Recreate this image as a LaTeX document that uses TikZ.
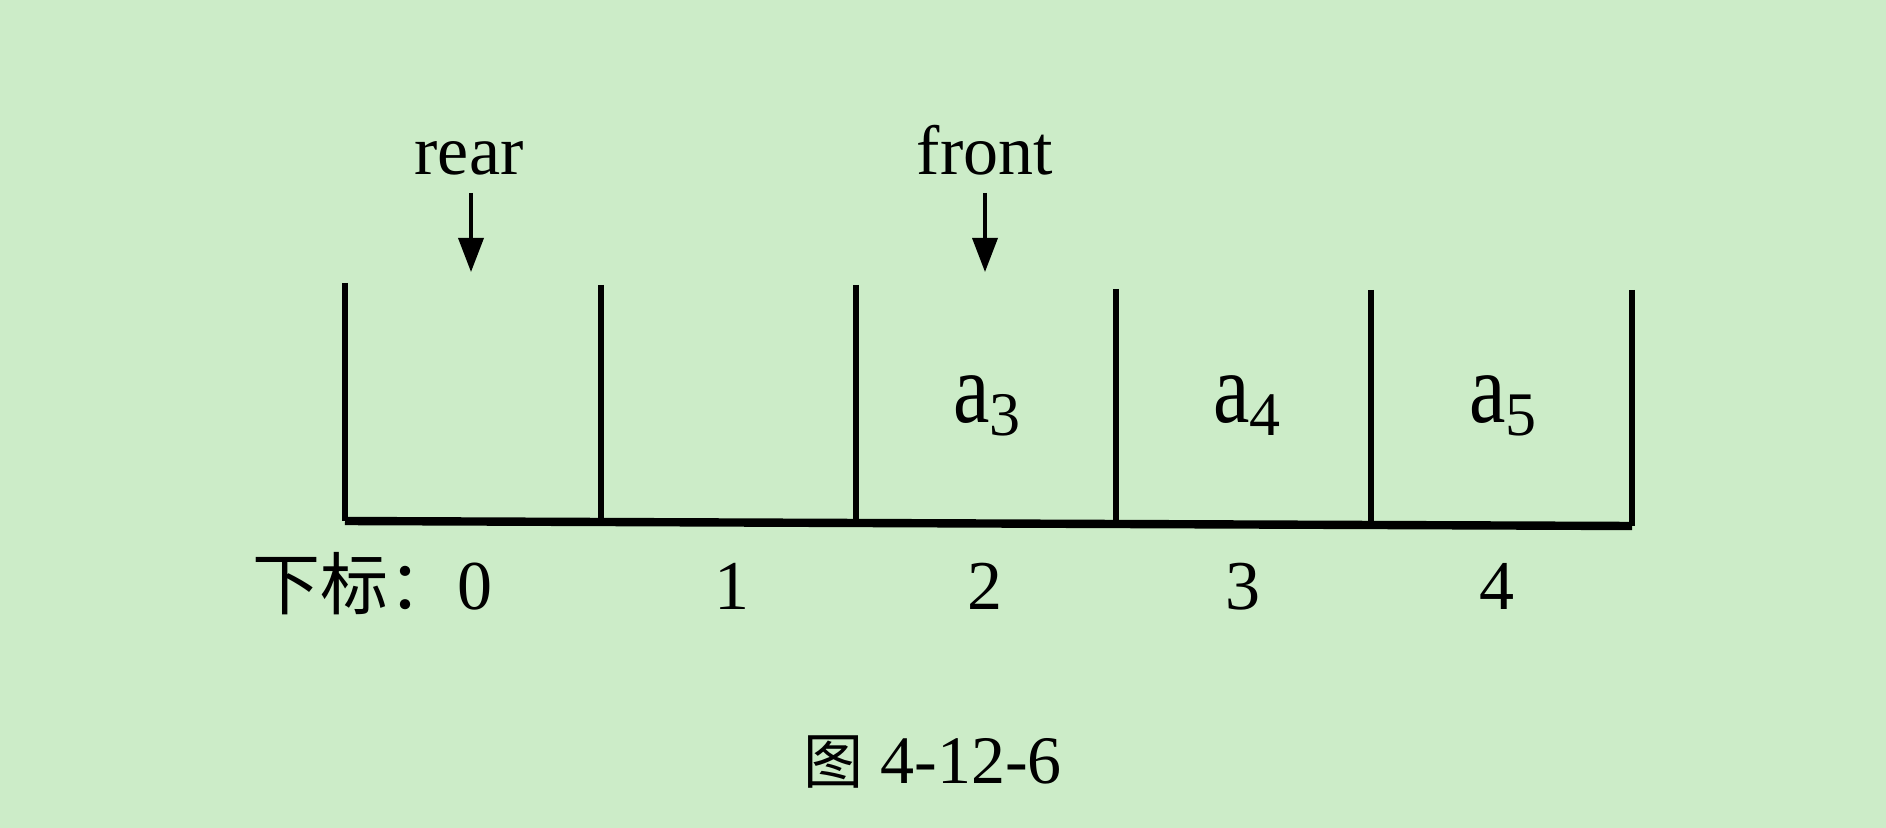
\documentclass[tikz,border=0pt]{standalone}
\usepackage{fontspec}
\usepackage{graphicx}
\setmainfont{Liberation Serif}
\newfontfamily\cjk{Noto Sans CJK SC}
\usetikzlibrary{arrows.meta}
\definecolor{bg}{RGB}{204,236,200}
\newcommand{\elem}[1]{{\fontsize{50}{50}\selectfont\scalebox{0.82}[1]{a}}\raisebox{-6.5pt}{\fontsize{31}{31}\selectfont #1}}
\begin{document}
\begin{tikzpicture}[x=0.5pt,y=-0.5pt,
  wall/.style={line width=3.2pt},
  basel/.style={line width=4.2pt},
  lbl/.style={inner sep=0pt,anchor=base,font=\fontsize{35}{40}\selectfont},
  cell/.style={inner sep=0pt,anchor=base},
  ptr/.style={line width=1.8pt,-{Triangle[length=17pt,width=12.5pt]}}]
\fill[bg] (0,0) rectangle (1886,828);
\useasboundingbox (0,0) rectangle (1886,828);
% wall coordinates
\coordinate (t0) at (345,283); \coordinate (b0) at (345,521);
\coordinate (t1) at (601,285); \coordinate (b1) at (601,522);
\coordinate (t2) at (856,285); \coordinate (b2) at (856,523);
\coordinate (t3) at (1116,289); \coordinate (b3) at (1116,524);
\coordinate (t4) at (1371,290); \coordinate (b4) at (1371,525);
\coordinate (t5) at (1632,290); \coordinate (b5) at (1632,526);
\foreach \i in {0,...,5} {\draw[wall] (t\i) -- (b\i);}
\draw[basel] (b0) -- (b5);
% elements
\node[cell] (a3) at (987,423) {\elem{3}};
\node[cell] (a4) at (1247,423) {\elem{4}};
\node[cell] (a5) at (1503,423) {\elem{5}};
% pointers
\node[lbl] (rear) at (469,175) {rear};
\node[lbl] (front) at (985,175) {front};
\coordinate (rs) at (471,193); \coordinate (rt) at (471,272);
\coordinate (fs) at (985,193); \coordinate (ft) at (985,272);
\draw[ptr] (rs) -- (rt);
\draw[ptr] (fs) -- (ft);
% indices
\node[lbl] (i0) at (475,610) {0};
\node[inner sep=0pt,anchor=base east,font=\cjk\fontsize{34}{40}\selectfont] (sub) at (i0.base west) {下标：};
\node[lbl] (i1) at (732,610) {1};
\node[lbl] (i2) at (985,610) {2};
\node[lbl] (i3) at (1243,610) {3};
\node[lbl] (i4) at (1497,610) {4};
% caption
\node[inner sep=0pt,anchor=base west,font=\fontsize{34}{40}\selectfont] (cap) at (803,783) {{\cjk\fontsize{30}{30}\selectfont 图}\ 4-12-6};
\end{tikzpicture}
\end{document}
